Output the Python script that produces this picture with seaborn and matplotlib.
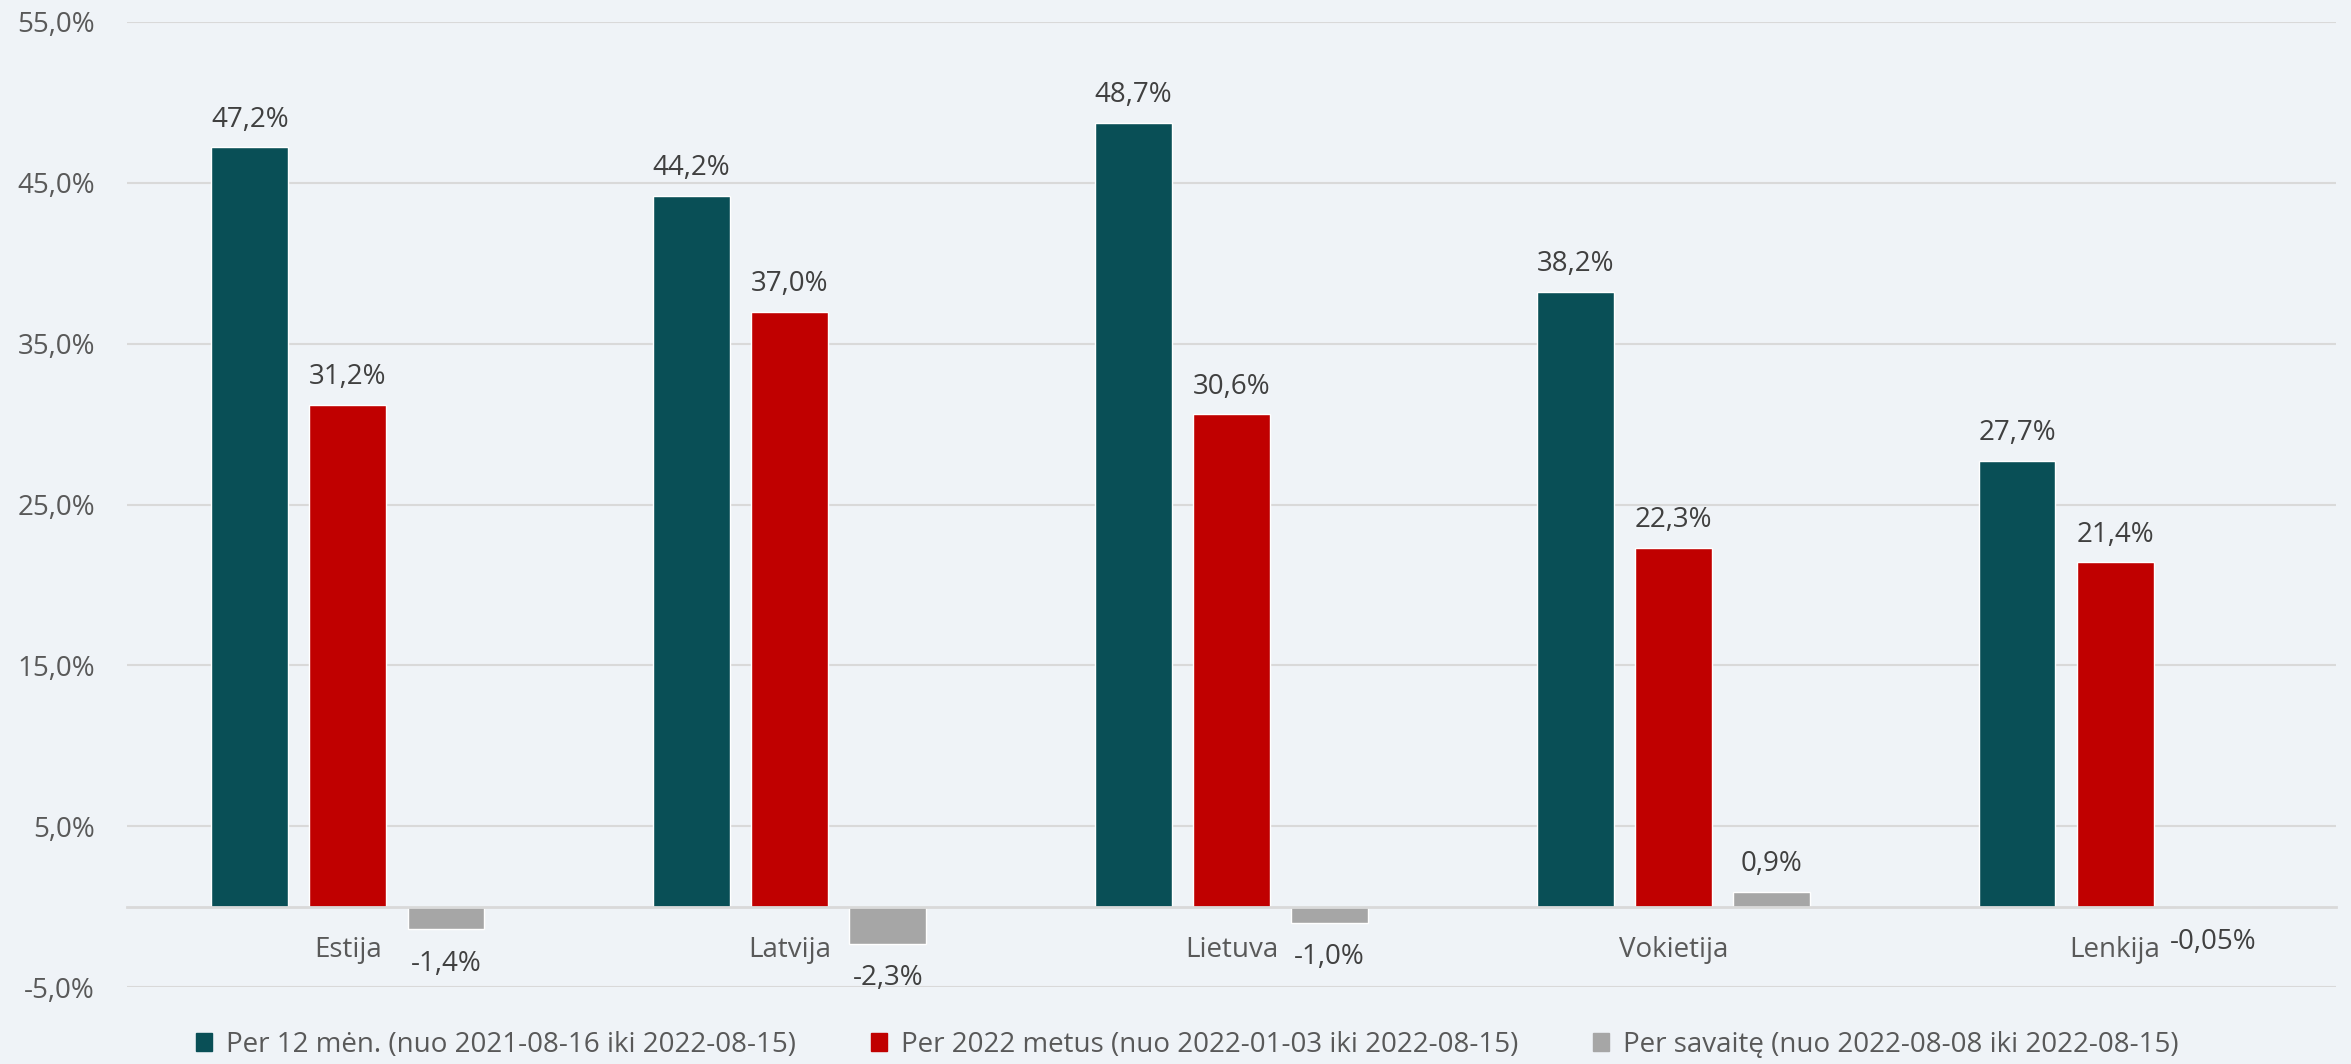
import pandas as pd
import matplotlib.pyplot as plt
import seaborn as sns
from matplotlib.patches import Patch

# Chart data
countries = ["Estija", "Latvija", "Lietuva", "Vokietija", "Lenkija"]
series_names = [
    "Per 12 mėn. (nuo 2021-08-16 iki 2022-08-15)",
    "Per 2022 metus (nuo 2022-01-03 iki 2022-08-15)",
    "Per savaitę (nuo 2022-08-08 iki 2022-08-15)",
]
per_12m = [47.2, 44.2, 48.7, 38.2, 27.7]
per_2022 = [31.2, 37.0, 30.6, 22.3, 21.4]
per_week = [-1.4, -2.3, -1.0, 0.9, -0.05]
yticks = [-5, 5, 15, 25, 35, 45, 55]

colors = ["#094F56", "#C00000", "#A6A6A6"]
bg = "#EFF3F7"

rows = []
for name, vals in zip(series_names, [per_12m, per_2022, per_week]):
    for c, v in zip(countries, vals):
        rows.append({"country": c, "series": name, "value": v})
df = pd.DataFrame(rows)

sns.set_style("white")
plt.rcParams["font.family"] = ["Open Sans", "DejaVu Sans"]

fig = plt.figure(figsize=(23.51, 10.64), dpi=100, facecolor=bg)
ax = fig.add_axes([127 / 2351, 77 / 1064, 2209 / 2351, 965 / 1064])
ax.set_facecolor(bg)

sns.barplot(data=df, x="country", y="value", hue="series", order=countries,
            hue_order=series_names, palette=colors, width=0.666, gap=0.216,
            saturation=1, legend=False, ax=ax, err_kws={"linewidth": 0})

ax.set_ylim(-5, 55)
ax.set_xlim(-0.5, len(countries) - 0.5)
ax.set_yticks(yticks)
ax.set_yticklabels([f"{t:.1f}%".replace(".", ",") for t in yticks])
ax.yaxis.grid(True, color="#D9D9D9", linewidth=1.5)
ax.set_axisbelow(True)
ax.tick_params(axis="y", length=0, pad=23, labelsize=20, labelcolor="#595959")
ax.tick_params(axis="x", length=0, pad=21, labelsize=20, labelcolor="#595959")
ax.set_xlabel("")
ax.set_ylabel("")
for s in ["left", "right", "top"]:
    ax.spines[s].set_visible(False)
ax.spines["bottom"].set_position(("data", 0))
ax.spines["bottom"].set_color("#D9D9D9")
ax.spines["bottom"].set_linewidth(2)

# Value labels
def fmt(v):
    s = f"{v:.2f}" if abs(v) < 0.1 else f"{v:.1f}"
    return s.replace(".", ",") + "%"

for cont in ax.containers:
    for bar in cont:
        h = bar.get_height()
        x = bar.get_x() + bar.get_width() / 2
        if h >= 0:
            ax.annotate(fmt(h), (x, h), xytext=(0, 10), textcoords="offset points",
                        ha="center", va="bottom", fontsize=20, color="#404040")
        else:
            ax.annotate(fmt(h), (x, h), xytext=(0, -15), textcoords="offset points",
                        ha="center", va="top", fontsize=20, color="#404040")

handles = [Patch(facecolor=c, edgecolor=c) for c in colors]
fig.legend(handles, series_names, loc="center", bbox_to_anchor=(0.505, 0.018),
           ncol=3, frameon=False, fontsize=20, labelcolor="#595959",
           handlelength=0.58, handleheight=0.58, handletextpad=0.5, columnspacing=2.7,
           borderpad=0)

plt.savefig("out.png", dpi=100, facecolor=bg)
